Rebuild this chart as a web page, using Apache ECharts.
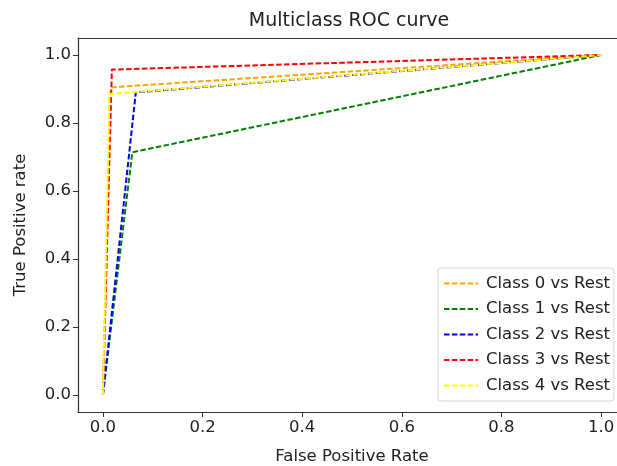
<!DOCTYPE html>
<html>
<head>
<meta charset="utf-8">
<script src="https://cdn.jsdelivr.net/npm/echarts@6/dist/echarts.min.js"></script>
<style>
html,body{margin:0;padding:0;background:#fff;}
#c{width:617px;height:466px;}
</style>
</head>
<body>
<div id="c"></div>
<script>
var seriesNames = ['Class 0 vs Rest','Class 1 vs Rest','Class 2 vs Rest','Class 3 vs Rest','Class 4 vs Rest'];
var class0 = [[0,0],[0.016,0.905],[1,1]];
var class1 = [[0,0],[0.059,0.714],[1,1]];
var class2 = [[0,0],[0.066,0.890],[1,1]];
var class3 = [[0,0],[0.018,0.957],[1,1]];
var class4 = [[0,0],[0.013,0.885],[1,1]];
var tickValues = [0,0.2,0.4,0.6,0.8,1.0];
var colors = ['#FFA500','#008000','#0000FF','#FF0000','#FFFF00'];

var fontFam = 'DejaVu Sans';
var allData = [class0,class1,class2,class3,class4];
var chart = echarts.init(document.getElementById('c'));
chart.setOption({
  animation:false,
  backgroundColor:'#fff',
  title:{text:'Multiclass ROC curve',left:344,textAlign:'center',top:7,
    textStyle:{fontFamily:fontFam,fontSize:19,fontWeight:'normal',color:'#222'}},
  grid:{left:78,top:38,width:548,height:374,show:false,outerBoundsMode:'none',containLabel:false},
  xAxis:[{type:'value',min:-0.05,max:1.05,
    name:'False Positive Rate',nameLocation:'middle',nameGap:36,
    nameTextStyle:{fontFamily:fontFam,fontSize:16.5,color:'#222'},
    axisLine:{show:true,onZero:false,lineStyle:{color:'#333',width:1.2}},
    axisTick:{show:true,inside:false,length:5,customValues:tickValues,lineStyle:{color:'#333'}},
    axisLabel:{customValues:tickValues,margin:7,fontFamily:fontFam,fontSize:16.5,color:'#222',
      formatter:function(v){return v.toFixed(1);}},
    splitLine:{show:false}},
   {type:'value',position:'top',min:-0.05,max:1.05,
    axisLine:{show:true,onZero:false,lineStyle:{color:'#333',width:1.2}},
    axisTick:{show:false},axisLabel:{show:false},splitLine:{show:false}}],
  yAxis:{type:'value',min:-0.05,max:1.05,
    name:'True Positive rate',nameLocation:'middle',nameGap:49,nameRotate:90,
    nameTextStyle:{fontFamily:fontFam,fontSize:16.5,color:'#222'},
    axisLine:{show:true,onZero:false,lineStyle:{color:'#333',width:1.2}},
    axisTick:{show:true,inside:false,length:5,customValues:tickValues,lineStyle:{color:'#333'}},
    axisLabel:{customValues:tickValues,margin:7,fontFamily:fontFam,fontSize:16.5,color:'#222',
      formatter:function(v){return v.toFixed(1);}},
    splitLine:{show:false}},
  legend:{orient:'vertical',left:438,top:268,
    padding:[7,4,7,5],itemGap:8.5,itemWidth:34,itemHeight:14,
    borderColor:'#d5d5d5',borderWidth:1,borderRadius:3,backgroundColor:'rgba(255,255,255,0.8)',
    itemStyle:{opacity:0},
    textStyle:{fontFamily:fontFam,fontSize:16.5,color:'#222',padding:[0,0,0,3]},
    data:seriesNames},
  series:seriesNames.map(function(n,i){
    return {name:n,type:'line',data:allData[i],symbol:'none',z:2+i,xAxisIndex:0,
      color:colors[i],
      lineStyle:{color:colors[i],width:2,type:[5.5,2.4]}};
  })
});
</script>
</body>
</html>
